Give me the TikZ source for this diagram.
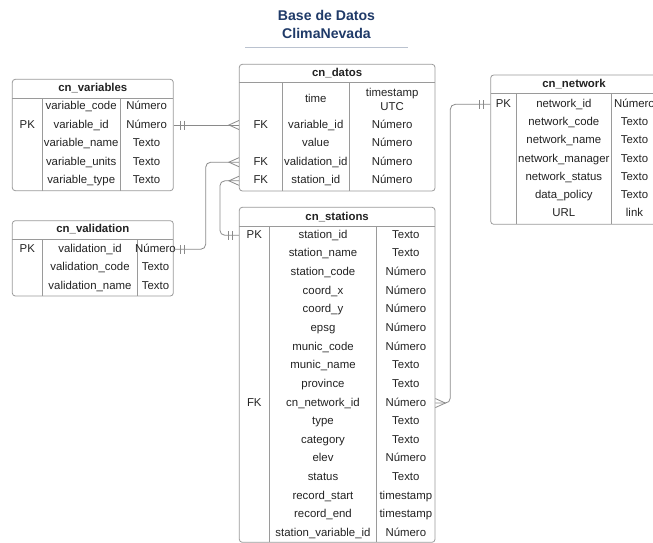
\documentclass[tikz,border=0pt]{standalone}
\usepackage{fontspec}
\setmainfont{Liberation Sans}
\usetikzlibrary{calc}

\definecolor{titleblue}{HTML}{1F3A68}
\definecolor{linegray}{HTML}{8A8A8A}
\definecolor{boxgray}{HTML}{9A9A9A}
\definecolor{rulegray}{HTML}{BAC2CF}
\definecolor{inkgray}{HTML}{222222}

\begin{document}
\begin{tikzpicture}[x=1pt, y=-1pt,
   font=\fontsize{11.4}{13.4}\selectfont,
   tbl/.style={draw=boxgray, line width=0.8pt, rounded corners=3pt, inner sep=0pt},
   cell/.style={inner sep=0pt, text=inkgray, text height=8.2pt, text depth=2.2pt},
   head/.style={cell, font=\fontsize{11.4}{13.4}\selectfont\bfseries},
   sep/.style={draw=boxgray, line width=0.8pt},
   link/.style={draw=linegray, line width=0.8pt},
   onemark/.pic={\draw[link] (6.5,-4.5) -- (6.5,4.5) (10.5,-4.5) -- (10.5,4.5);},
   manymark/.pic={\draw[link] (0,-4.5) -- (10,0) -- (0,4.5);}]
   \useasboundingbox (0,0) rectangle (653,543);
   \clip (0,0) rectangle (653,543);

   % title
   \node (title) at (326.5,24.4) [text=titleblue, align=center,
      font=\fontsize{14.1}{18}\selectfont\bfseries] {Base de Datos\\ClimaNevada};
   \draw[rulegray, line width=1.2pt] (245,47.7) -- (408.3,47.7);

   % cn_variables
   \node (variables) at (92.8,135) [tbl, minimum width=161pt, minimum height=111.4pt] {};
   \node (vh) at (92.8,88.8) [head] {cn\_variables};
   \draw[sep] (12.3,98.3) -- (173.3,98.3) (42.3,98.3) -- (42.3,190.7) (120,98.3) -- (120,190.7);
   \foreach \k/\n/\t [count=\i] in {/variable\_code/Número, PK/variable\_id/Número,
      /variable\_name/Texto, /variable\_units/Texto, /variable\_type/Texto} {
      \node (vk\i) at (27.3,87.8+18.6*\i) [cell] {\k};
      \node (vn\i) at (81.2,87.8+18.6*\i) [cell] {\n};
      \node (vt\i) at (146.6,87.8+18.6*\i) [cell] {\t};
   }

   % cn_validation
   \node (validation) at (92.8,258.35) [tbl, minimum width=161pt, minimum height=75.3pt] {};
   \node (ah) at (92.8,229.85) [head] {cn\_validation};
   \draw[sep] (12.3,239) -- (173.3,239) (42.3,239) -- (42.3,296) (137.7,239) -- (137.7,296);
   \foreach \k/\n/\t [count=\i] in {PK/validation\_id/Número,
      /validation\_code/Texto, /validation\_name/Texto} {
      \node (ak\i) at (27.3,230.8+18.5*\i) [cell] {\k};
      \node (an\i) at (90,230.8+18.5*\i) [cell] {\n};
      \node (at\i) at (155.5,230.8+18.5*\i) [cell] {\t};
   }

   % cn_datos
   \node (datos) at (337.15,127.65) [tbl, minimum width=195.7pt, minimum height=126.7pt] {};
   \node (dh) at (337.15,73.3) [head] {cn\_datos};
   \draw[sep] (239.3,82.3) -- (435,82.3) (282.3,82.3) -- (282.3,191) (349.3,82.3) -- (349.3,191);
   \node (dn0) at (315.8,99.5) [cell] {time};
   \node (dt0) at (392.15,99.5) [inner sep=0pt, text=inkgray, align=center] {timestamp\\UTC};
   \foreach \k/\n [count=\i] in {FK/variable\_id, /value, FK/validation\_id, FK/station\_id} {
      \node (dk\i) at (260.8,106.4+18.6*\i) [cell] {\k};
      \node (dn\i) at (315.8,106.4+18.6*\i) [cell] {\n};
      \node (dt\i) at (392.15,106.4+18.6*\i) [cell] {Número};
   }

   % cn_stations
   \node (stations) at (337.15,374.8) [tbl, minimum width=195.7pt, minimum height=335pt] {};
   \node (sh) at (337.15,217) [head] {cn\_stations};
   \draw[sep] (239.3,226.7) -- (435,226.7) (269.3,226.7) -- (269.3,542.3) (376.7,226.7) -- (376.7,542.3);
   \foreach \k/\n/\t [count=\i] in {PK/station\_id/Texto, /station\_name/Texto,
      /station\_code/Número, /coord\_x/Número, /coord\_y/Número, /epsg/Número,
      /munic\_code/Número, /munic\_name/Texto, /province/Texto,
      FK/cn\_network\_id/Número, /type/Texto, /category/Texto, /elev/Número,
      /status/Texto, /record\_start/timestamp, /record\_end/timestamp,
      /station\_variable\_id/Número} {
      \node (sk\i) at (254.3,216.66+18.64*\i) [cell] {\k};
      \node (sn\i) at (323,216.66+18.64*\i) [cell] {\n};
      \node (st\i) at (405.85,216.66+18.64*\i) [cell] {\t};
   }

   % cn_network
   \node (network) at (574,149.65) [tbl, minimum width=166.6pt, minimum height=149.3pt] {};
   \node (nh) at (574,84.2) [head] {cn\_network};
   \draw[sep] (490.7,93.3) -- (657.3,93.3) (516,93.3) -- (516,224.3) (611.7,93.3) -- (611.7,224.3);
   \foreach \k/\n/\t [count=\i] in {PK/network\_id/Número, /network\_code/Texto,
      /network\_name/Texto, /network\_manager/Texto, /network\_status/Texto,
      /data\_policy/Texto, /URL/link} {
      \node (nk\i) at (503.35,86.02+18.28*\i) [cell] {\k};
      \node (nn\i) at (563.85,86.02+18.28*\i) [cell] {\n};
      \node (nt\i) at (634.5,86.02+18.28*\i) [cell] {\t};
   }

   % relations
   \draw[link] (variables.east |- vn2) -- (datos.west |- dn1);
   \draw[link, rounded corners=5pt] (validation.east |- an1) -- ++(32,0) |- (datos.west |- dn3);
   \draw[link, rounded corners=5pt] (datos.west |- dn4) -- ++(-19,0) |- (stations.west |- sn1);
   \draw[link, rounded corners=5pt] (network.west |- nn1) -- ++(-40,0) |- (stations.east |- sn10);
   \pic at (variables.east |- vn2) {onemark};
   \pic at (validation.east |- an1) {onemark};
   \pic[rotate=180] at (network.west |- nn1) {onemark};
   \pic[rotate=180] at (stations.west |- sn1) {onemark};
   \pic[rotate=180] at (datos.west |- dn1) {manymark};
   \pic[rotate=180] at (datos.west |- dn3) {manymark};
   \pic[rotate=180] at (datos.west |- dn4) {manymark};
   \pic at (stations.east |- sn10) {manymark};
\end{tikzpicture}
\end{document}
